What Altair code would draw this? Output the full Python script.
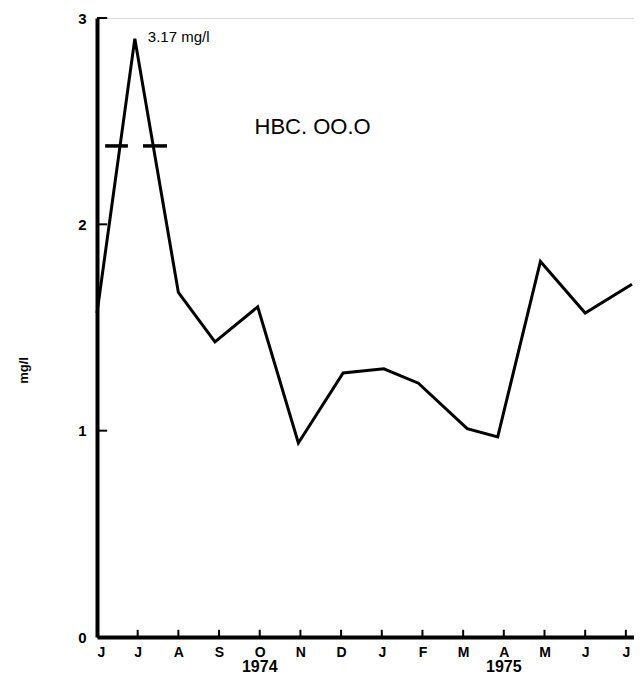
import altair as alt
import pandas as pd

# ---- data ----
months = ["J", "J", "A", "S", "O", "N", "D", "J", "F", "M", "A", "M", "J", "J"]
sample_pos = [0, 0.93, 2.0, 2.9, 3.95, 4.95, 6.05, 7.05, 7.9, 9.1, 9.85, 10.9, 12.0, 13.15]
values = [1.57, 2.90, 1.67, 1.43, 1.60, 0.94, 1.28, 1.30, 1.23, 1.01, 0.97, 1.82, 1.57, 1.71]
y_ticks = [0, 1, 2, 3]
years = ["1974", "1975"]
year_pos = [4.0, 10.0]
break_level = 2.38
break_left = [0.2, 0.76]
break_right = [1.13, 1.72]
peak_label = "3.17 mg/l"
station = "HBC. OO.O"

FONT = "Liberation Sans"
xs = alt.Scale(domain=[0, 13.2], nice=False, zero=False)
ys = alt.Scale(domain=[0, 3], nice=False)

df = pd.DataFrame({"x": sample_pos, "y": values})
tick_df = pd.DataFrame({"x": list(range(1, len(months))), "y": 0, "y2": 0.035})
ytick_df = pd.DataFrame({"y": y_ticks, "x": 0, "x2": 0.25})
year_df = pd.DataFrame({"x": year_pos, "t": years})
brk_df = pd.DataFrame({"x": [break_left[0], break_right[0]], "x2": [break_left[1], break_right[1]],
                       "y": [break_level, break_level]})
ann_df = pd.DataFrame({"x": [1.25, 5.3], "y": [2.91, 2.47], "t": [peak_label, station]})

label_expr = "[" + ",".join(f"'{m}'" for m in months) + "][datum.value]"

line = alt.Chart(df).mark_line(color="black", strokeWidth=3, strokeJoin="miter").encode(
    x=alt.X("x:Q", scale=xs, axis=alt.Axis(
        values=list(range(len(months))), labelExpr=label_expr, title=None, grid=False,
        ticks=False, tickSize=0, labelPadding=8, labelFont=FONT, labelFontSize=14,
        labelFontWeight="bold", labelColor="black", domainColor="black", domainWidth=4)),
    y=alt.Y("y:Q", scale=ys, axis=alt.Axis(
        values=y_ticks, format="d", title="mg/l", grid=False, ticks=False, tickSize=0,
        labelPadding=11, labelFont=FONT, labelFontSize=15, labelFontWeight="bold",
        labelColor="black", domainColor="black", domainWidth=4,
        titleFont=FONT, titleFontSize=13, titleFontWeight="bold", titleColor="black",
        titleX=-74, titleY=352, titleAngle=-90, titleBaseline="middle", titleAlign="center")),
)

xticks = alt.Chart(tick_df).mark_rule(color="black", strokeWidth=2).encode(
    x=alt.X("x:Q", scale=xs), y=alt.Y("y:Q", scale=ys), y2="y2:Q")
yticks = alt.Chart(ytick_df).mark_rule(color="black", strokeWidth=2).encode(
    y=alt.Y("y:Q", scale=ys), x=alt.X("x:Q", scale=xs), x2="x2:Q")
brk = alt.Chart(brk_df).mark_rule(color="black", strokeWidth=3.5).encode(
    x=alt.X("x:Q", scale=xs), x2="x2:Q", y=alt.Y("y:Q", scale=ys))
yrs = alt.Chart(year_df).mark_text(font=FONT, fontSize=16, fontWeight="bold", color="black",
                                   baseline="middle", dy=30).encode(
    x=alt.X("x:Q", scale=xs), y=alt.value(619), text="t:N")
ann_peak = alt.Chart(ann_df.iloc[[0]]).mark_text(font=FONT, fontSize=15, color="black",
                                                 align="left", baseline="middle").encode(
    x=alt.X("x:Q", scale=xs), y=alt.Y("y:Q", scale=ys), text="t:N")
ann_st = alt.Chart(ann_df.iloc[[1]]).mark_text(font=FONT, fontSize=22, color="black",
                                               align="center", baseline="middle").encode(
    x=alt.X("x:Q", scale=xs), y=alt.Y("y:Q", scale=ys), text="t:N")

chart = alt.layer(line, xticks, yticks, brk, yrs, ann_peak, ann_st).properties(
    width=537, height=619,
    autosize=alt.AutoSizeParams(type="none"),
    padding={"left": 89, "top": 10, "right": 0, "bottom": 41},
).configure_view(stroke=None).configure(background="white")

chart.save("out.html", embed_options={"renderer": "svg", "actions": False})
